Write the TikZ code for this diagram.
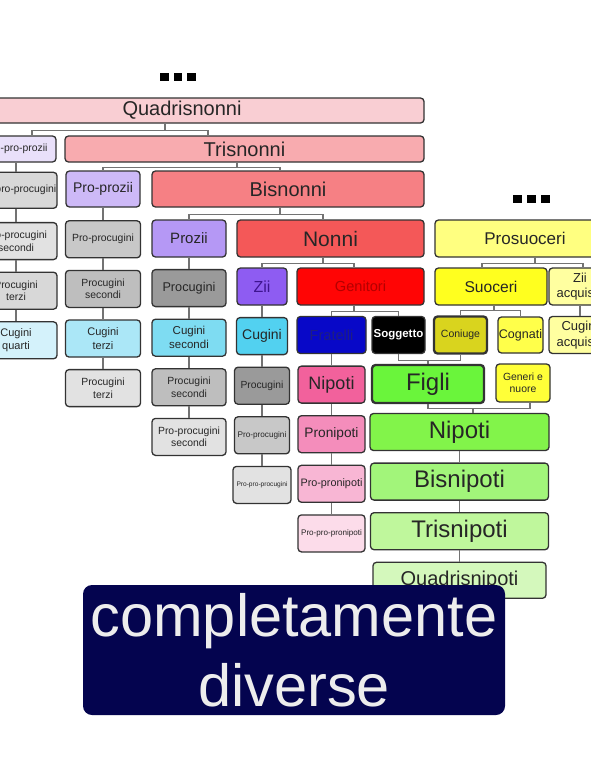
\documentclass[tikz,border=0pt]{standalone}
\usepackage{fontspec}
\setmainfont{Liberation Sans}
\usepackage{xcolor}
\usepackage{tikz}
\usetikzlibrary{positioning}

% ascendants (reds)
\definecolor{quadC}{HTML}{F9CED3}
\definecolor{trisC}{HTML}{F8ABAF}
\definecolor{bisC}{HTML}{F68084}
\definecolor{nonniC}{HTML}{F45858}
\definecolor{genC}{HTML}{FF0505}
\definecolor{genT}{HTML}{B40000}
\definecolor{fratC}{HTML}{0808C8}
\definecolor{fratT}{HTML}{1E1E82}
% uncles (purples)
\definecolor{zioA}{HTML}{E9E0FA}
\definecolor{zioB}{HTML}{CDB9F7}
\definecolor{zioC}{HTML}{B598F5}
\definecolor{zioD}{HTML}{8E5CF2}
\definecolor{zioT}{HTML}{3E1490}
% cousins (cyans)
\definecolor{cugA}{HTML}{D4F2FB}
\definecolor{cugB}{HTML}{ABE7F7}
\definecolor{cugC}{HTML}{7EDCF2}
\definecolor{cugD}{HTML}{52D1F0}
% second cousins (greys)
\definecolor{grA}{HTML}{9A9A9A}
\definecolor{grB}{HTML}{BEBEBE}
\definecolor{grC}{HTML}{C8C8C8}
\definecolor{grD}{HTML}{D8D8D8}
\definecolor{grE}{HTML}{E2E2E2}
% nephews (pinks)
\definecolor{nipA}{HTML}{F2619C}
\definecolor{nipB}{HTML}{F48DBB}
\definecolor{nipC}{HTML}{F8B6D4}
\definecolor{nipD}{HTML}{FCDCEA}
% descendants (greens)
\definecolor{figA}{HTML}{6AF53B}
\definecolor{figB}{HTML}{82F44A}
\definecolor{figC}{HTML}{A2F57A}
\definecolor{figD}{HTML}{BFF79C}
\definecolor{figE}{HTML}{D4F8BC}
% in-laws (yellows)
\definecolor{acqA}{HTML}{FFFF80}
\definecolor{acqB}{HTML}{FFFF1F}
\definecolor{acqC}{HTML}{D9D41E}
\definecolor{acqD}{HTML}{FFFF4A}
\definecolor{acqE}{HTML}{FFFFA0}
\definecolor{acqF}{HTML}{FFFF38}
\definecolor{navyC}{HTML}{04044F}

\begin{document}
\begin{tikzpicture}[
    x=1pt, y=-1pt,
    node distance=11.3pt,
    box/.style={
        rectangle,
        draw=black!80,
        line width=1.3pt,
        rounded corners=3.5pt,
        align=center,
        inner xsep=0pt,
        inner ysep=1pt,
        text=black!85,
        minimum height=37pt
    },
    fs/.style={font=\fontsize{#1}{\fpeval{1.2*#1}}\selectfont},
    link/.style={draw=black!55, line width=1.2pt},
    heavy/.style={line width=2.3pt}
]

\useasboundingbox (0,0) rectangle (591,779);
\fill[white] (0,0) rectangle (591,779);
\clip (0,0) rectangle (591,779);

% =========================================
% Ascendants
% =========================================
\node[box, fill=quadC, fs=20, minimum width=484pt, minimum height=25pt] (Q) at (182,110.5) {Quadrisnonni};
\node[box, fill=zioA, fs=10.4, minimum width=80pt, minimum height=26pt] (PPPZ) at (16,149) {Pro-pro-prozii};
\node[box, fill=trisC, fs=20, minimum width=359pt, minimum height=26pt] (T) at (244.5,149) {Trisnonni};
\node[box, fill=grD, fs=10.4, minimum width=82pt, minimum height=36pt, below=9pt of PPPZ] (PPPC) {Pro-pro-procugini};
\node[box, fill=zioB, fs=14, minimum width=74pt, minimum height=36pt] (PPZ) at (103,189) {Pro-prozii};
\node[box, fill=bisC, fs=20, minimum width=272pt, minimum height=36pt] (B) at (288,189) {Bisnonni};
\node[box, fill=nonniC, fs=21, minimum width=187pt] (N) at (330.5,238.5) {Nonni};
\node[box, fill=genC, text=genT, fs=14.6, minimum width=127pt] (G) at (360.5,286.5) {Genitori};

% =========================================
% Side columns
% =========================================
% column of Pro-pro-prozii
\node[box, fill=grE, fs=10.4, minimum width=82pt, below=13pt of PPPC] (PPCs) {Pro-procugini\\secondi};
\node[box, fill=grD, fs=10.4, minimum width=82pt, below=of PPCs] (PCt) {Procugini\\terzi};
\node[box, fill=cugA, fs=11, minimum width=82pt, below=of PCt] (Cq) {Cugini\\quarti};

% column of Pro-prozii
\node[box, fill=grC, fs=10.4, minimum width=75pt, below=12.5pt of PPZ] (PPC) {Pro-procugini};
\node[box, fill=grB, fs=10.4, minimum width=75pt, below=of PPC] (PCs) {Procugini\\secondi};
\node[box, fill=cugB, fs=11, minimum width=75pt, below=of PCs] (Ct) {Cugini\\terzi};
\node[box, fill=grE, fs=10.4, minimum width=75pt, below=of Ct] (PCtb) {Procugini\\terzi};

% column of Prozii
\node[box, fill=zioC, fs=15, minimum width=74pt] (Pz) at (189,238.5) {Prozii};
\node[box, fill=grA, fs=12.7, minimum width=74pt, below=of Pz] (Pc) {Procugini};
\node[box, fill=cugC, fs=11.5, minimum width=74pt, below=of Pc] (Cs) {Cugini\\secondi};
\node[box, fill=grB, fs=10.4, minimum width=74pt, below=of Cs] (PCsb) {Procugini\\secondi};
\node[box, fill=grE, fs=10.4, minimum width=74pt, below=of PCsb] (PPCsb) {Pro-procugini\\secondi};

% column of Zii
\node[box, fill=zioD, text=zioT, fs=16, minimum width=50pt] (Zii) at (262,286.5) {Zii};
\node[box, fill=cugD, fs=14, minimum width=51pt, below=of Zii] (Cug) {Cugini};
\node[box, fill=grA, fs=10.3, minimum width=55pt, below=of Cug] (Pcb) {Procugini};
\node[box, fill=grC, fs=8.2, minimum width=55pt, below=of Pcb] (PPcb) {Pro-procugini};
\node[box, fill=grE, fs=6.6, minimum width=58pt, below=of PPcb] (PPPcb) {Pro-pro-procugini};

% column of Fratelli
\node[box, fill=fratC, text=fratT, fs=14.6, minimum width=69pt] (Fr) at (331.5,335) {Fratelli};
\node[box, fill=nipA, fs=18, minimum width=67pt, below=of Fr] (Np) {Nipoti};
\node[box, fill=nipB, fs=13.7, minimum width=67pt, below=of Np] (Pnp) {Pronipoti};
\node[box, fill=nipC, fs=10.8, minimum width=67pt, below=of Pnp] (PPnp) {Pro-pronipoti};
\node[box, fill=nipD, fs=8.1, minimum width=67pt, below=of PPnp] (PPPnp) {Pro-pro-pronipoti};

% =========================================
% Subject, spouse and in-laws
% =========================================
\node[box, fill=black, text=white, fs=11.5, minimum width=53pt] (S) at (398.5,335) {\textbf{Soggetto}};
\node[box, heavy, fill=acqC, fs=10.5, minimum width=53pt] (Con) at (460.5,335) {Coniuge};
\node[box, fill=acqD, fs=12.5, minimum width=45pt, minimum height=36pt] (Cog) at (520.5,335) {Cognati};
\node[box, fill=acqA, fs=17, minimum width=180pt] (PS) at (525,238.5) {Prosuoceri};
\node[box, fill=acqB, fs=15.6, minimum width=112pt] (Suo) at (491,286.5) {Suoceri};
\node[box, fill=acqE, fs=13, minimum width=62pt] (ZA) at (580,286.5) {Zii\\acquisiti};
\node[box, fill=acqE, fs=13, minimum width=62pt] (CA) at (580,335) {Cugini\\acquisiti};

% =========================================
% Descendants
% =========================================
\node[box, heavy, fill=figA, fs=24, minimum width=112pt, minimum height=38pt] (Fi) at (428,384) {Figli};
\node[box, fill=acqF, fs=10.4, minimum width=54pt, minimum height=38pt] (GN) at (523,383) {Generi e\\nuore};
\node[box, fill=figB, fs=24, minimum width=179pt] (Ng) at (459.5,432) {Nipoti};
\node[box, fill=figC, fs=24, minimum width=178pt, below=of Ng] (Bn) {Bisnipoti};
\node[box, fill=figD, fs=24, minimum width=178pt, below=of Bn] (Tn) {Trisnipoti};
\node[box, fill=figE, fs=20, minimum width=173pt, minimum height=36pt, below=of Tn] (Qn) {Quadrisnipoti};

% =========================================
% Connectors
% =========================================
% forks
\draw[link] ([xshift=-17pt]Q.south) -- ++(0,6.5) -| ([xshift=16pt]PPPZ.north);
\draw[link] ([xshift=-17pt]Q.south) -- ++(0,6.5) -| ([xshift=-36.5pt]T.north);
\draw[link] ([xshift=-7.5pt]T.south) -- ++(0,5) -| (PPZ.north);
\draw[link] ([xshift=-7.5pt]T.south) -- ++(0,5) -| ([xshift=-8pt]B.north);
\draw[link] ([xshift=-8pt]B.south) -- ++(0,7) -| (Pz.north);
\draw[link] ([xshift=-8pt]B.south) -- ++(0,7) -| ([xshift=-7.5pt]N.north);
\draw[link] ([xshift=-7.5pt]N.south) -- ++(0,6) -| (Zii.north);
\draw[link] ([xshift=-7.5pt]N.south) -- ++(0,6) -| ([xshift=-6.5pt]G.north);
\draw[link] ([xshift=-6.5pt]G.south) -- ++(0,6) -| (Fr.north);
\draw[link] ([xshift=-6.5pt]G.south) -- ++(0,6) -| (S.north);
\draw[link] ([xshift=10pt]PS.south) -- ++(0,6) -| ([xshift=-9pt]Suo.north);
\draw[link] ([xshift=10pt]PS.south) -- ++(0,6) -| ([xshift=3pt]ZA.north);
\draw[link] ([xshift=3pt]Suo.south) -- ++(0,5) -| (Con.north);
\draw[link] ([xshift=3pt]Suo.south) -- ++(0,5) -| (Cog.north);

% couples joined to their children
\draw[link] (S.south) -- ++(0,6) coordinate (sc) -| (Con.south);
\draw[link] (Fi.north) -- (Fi.north |- sc);
\draw[link] (Fi.south) -- ++(0,4) coordinate (fg) -| ([xshift=7pt]GN.south);
\draw[link] ([xshift=13.5pt]Ng.north) -- ([xshift=13.5pt]Ng.north |- fg);

% straight lines down each column
\draw[link] (PPPZ) -- (PPPC) (PPPC) -- (PPCs) (PPCs) -- (PCt) (PCt) -- (Cq);
\draw[link] (PPZ) -- (PPC) (PPC) -- (PCs) (PCs) -- (Ct) (Ct) -- (PCtb);
\draw[link] (Pz) -- (Pc) (Pc) -- (Cs) (Cs) -- (PCsb) (PCsb) -- (PPCsb);
\draw[link] (Zii) -- (Cug) (Cug) -- (Pcb) (Pcb) -- (PPcb) (PPcb) -- (PPPcb);
\draw[link] (Fr) -- (Np) (Np) -- (Pnp) (Pnp) -- (PPnp) (PPnp) -- (PPPnp);
\draw[link] (ZA) -- (CA);
\draw[link] (Ng) -- (Bn) (Bn) -- (Tn) (Tn) -- (Qn);

% more generations, not shown
\foreach \x in {160,173.5,187} \fill (\x,73) rectangle ++(8.5,7.5);
\foreach \x in {513,527,541} \fill (\x,195) rectangle ++(8.5,7.5);

% =========================================
% Caption
% =========================================
\node[fill=navyC, rounded corners=9pt, minimum width=422pt, minimum height=130pt,
      inner sep=0pt, align=center, text=white!93!black,
      font=\fontsize{59.5}{70}\selectfont] (caption) at (294,650) {completamente\\diverse};

\end{tikzpicture}
\end{document}
